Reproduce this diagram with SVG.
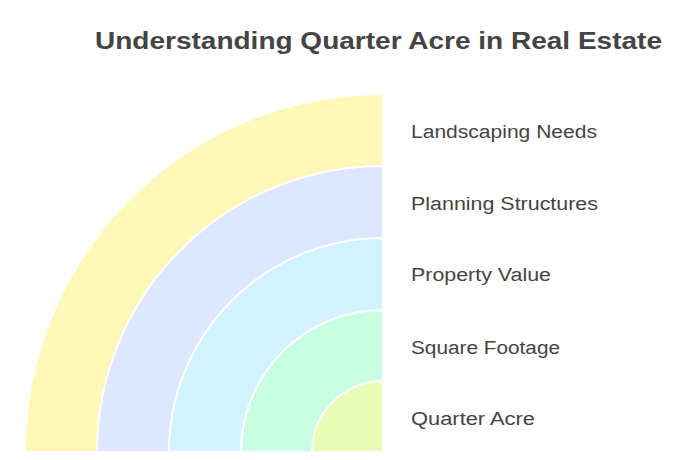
<svg xmlns="http://www.w3.org/2000/svg" width="690" height="460" viewBox="0 0 690 460">
<style>
.ring{stroke:#ffffff;stroke-width:2}
.lbl{font-family:"Liberation Sans",Arial,sans-serif;font-size:18px;fill:#444444}
.title{font-family:"Liberation Sans",Arial,sans-serif;font-size:23px;font-weight:bold;fill:#444444}
</style>
<rect width="690" height="460" fill="#ffffff"/>
<text class="title" x="95" y="49" textLength="567" lengthAdjust="spacingAndGlyphs">Understanding Quarter Acre in Real Estate</text>
<g id="landscaping-needs">
<path class="ring" fill="#FFF8B8" d="M383,452 L25,452 A358,358 0 0 1 383,94 Z"/>
<text class="lbl" x="411" y="138" textLength="186" lengthAdjust="spacingAndGlyphs">Landscaping Needs</text>
</g>
<g id="planning-structures">
<path class="ring" fill="#DDE7FE" d="M383,452 L97,452 A286,286 0 0 1 383,166 Z"/>
<text class="lbl" x="411" y="210" textLength="187" lengthAdjust="spacingAndGlyphs">Planning Structures</text>
</g>
<g id="property-value">
<path class="ring" fill="#D3F2FF" d="M383,452 L169,452 A214,214 0 0 1 383,238 Z"/>
<text class="lbl" x="411" y="281" textLength="140" lengthAdjust="spacingAndGlyphs">Property Value</text>
</g>
<g id="square-footage">
<path class="ring" fill="#C8FEE2" d="M383,452 L241,452 A142,142 0 0 1 383,310 Z"/>
<text class="lbl" x="411" y="354" textLength="149" lengthAdjust="spacingAndGlyphs">Square Footage</text>
</g>
<g id="quarter-acre">
<path class="ring" fill="#EAFDB8" d="M383,452 L312,452 A71,71 0 0 1 383,381 Z"/>
<text class="lbl" x="411" y="425" textLength="124" lengthAdjust="spacingAndGlyphs">Quarter Acre</text>
</g>
<g id="connectors"></g>
</svg>
